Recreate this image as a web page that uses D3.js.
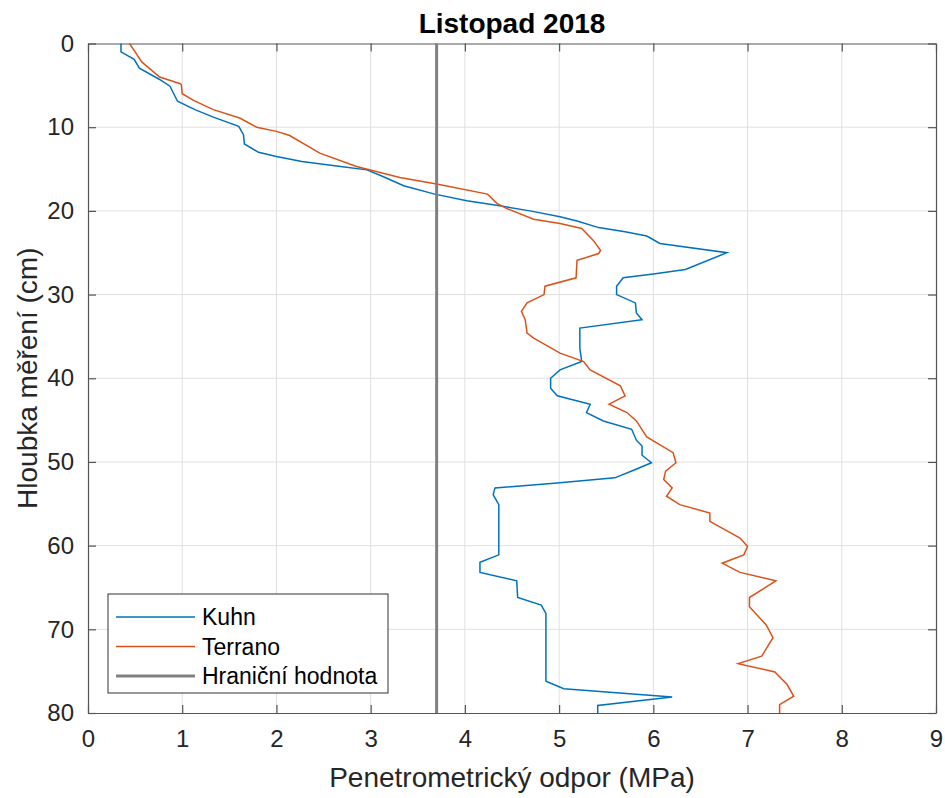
<!DOCTYPE html>
<html>
<head>
<meta charset="utf-8">
<script src="https://cdn.jsdelivr.net/npm/d3@7"></script>
<style>
  body { margin: 0; background: #fff; }
  text { font-family: "Liberation Sans", Arial, sans-serif; }
</style>
</head>
<body>
<div id="chart"></div>
<script>
// hloubka (cm) a odpor (MPa)
var kuhnDepth = [0, 1, 1.9, 2.95, 4.3, 5.1, 6, 6.9, 7.9, 8.8, 9.9, 10.9, 12, 13, 13.5, 14.1, 14.7, 15.1, 15.9, 17, 18, 18.8, 19.4, 20, 20.7, 21.2, 22, 22.5, 23, 23.9, 25, 27, 27.5, 28, 29, 30, 31, 32.2, 33, 34, 36.4, 38, 39, 40, 41.2, 42.1, 43.1, 44.1, 45.1, 46.1, 47.4, 48.1, 49.2, 50.1, 50.9, 51.9, 52.5, 53.1, 53.9, 55.1, 61.1, 62, 63.2, 64.2, 66.2, 67.1, 68.1, 76.2, 77.1, 78.1, 79.1, 80];
var kuhnValue = [0.35, 0.35, 0.49, 0.545, 0.76, 0.87, 0.91, 0.95, 1.135, 1.33, 1.6, 1.65, 1.66, 1.81, 2.0, 2.27, 2.68, 2.96, 3.13, 3.35, 3.68, 4.02, 4.37, 4.69, 5.01, 5.19, 5.42, 5.7, 5.93, 6.07, 6.78, 6.34, 6.02, 5.68, 5.61, 5.61, 5.81, 5.82, 5.88, 5.22, 5.22, 5.24, 5.01, 4.91, 4.91, 4.98, 5.33, 5.29, 5.47, 5.77, 5.82, 5.88, 5.88, 5.98, 5.81, 5.59, 5.01, 4.32, 4.3, 4.36, 4.36, 4.16, 4.16, 4.55, 4.56, 4.81, 4.86, 4.86, 5.05, 6.2, 5.41, 5.41];

var terranoDepth = [0, 1, 2.2, 4, 4.8, 4.9, 6, 6.8, 7.9, 8.9, 10, 10.5, 11, 13.1, 14.7, 16, 16.8, 18, 19.1, 19.7, 21, 21.5, 22.1, 23.5, 24.7, 25.1, 25.9, 28, 29, 30, 31, 32, 33, 34.6, 35.2, 37, 38, 39, 40.9, 42.1, 43.1, 44.1, 45.1, 47, 48.9, 50.1, 51.1, 52.1, 53.1, 54.1, 55.1, 56.1, 57.1, 59.1, 60.1, 61.1, 62.1, 63.2, 64.2, 66.2, 67.3, 69.5, 71, 73.2, 74.1, 75.1, 76.6, 78, 79, 80];
var terranoValue = [0.44, 0.5, 0.57, 0.76, 0.98, 0.99, 1.0, 1.12, 1.33, 1.61, 1.79, 2.0, 2.14, 2.46, 2.85, 3.31, 3.7, 4.24, 4.34, 4.44, 4.73, 5.01, 5.24, 5.36, 5.44, 5.42, 5.19, 5.18, 4.85, 4.84, 4.66, 4.6, 4.64, 4.66, 4.73, 5.01, 5.26, 5.33, 5.65, 5.7, 5.53, 5.72, 5.82, 5.93, 6.21, 6.24, 6.13, 6.11, 6.2, 6.14, 6.28, 6.6, 6.6, 6.92, 7.0, 6.96, 6.73, 6.92, 7.3, 7.02, 7.02, 7.2, 7.27, 7.15, 6.9, 7.29, 7.42, 7.49, 7.34, 7.34];

var limitValue = 3.7;
var xTicks = [0, 1, 2, 3, 4, 5, 6, 7, 8, 9];
var yTicks = [0, 10, 20, 30, 40, 50, 60, 70, 80];
var seriesNames = ["Kuhn", "Terrano", "Hraniční hodnota"];
var seriesColors = ["#0072BD", "#D95319", "#808080"];

var width = 945, height = 798;
var margin = {top: 43.5, right: 9, bottom: 85, left: 88};
var w = width - margin.left - margin.right;
var h = height - margin.top - margin.bottom;

var x = d3.scaleLinear().domain([0, 9]).range([0, w]);
var y = d3.scaleLinear().domain([0, 80]).range([0, h]);

var svg = d3.select("#chart").append("svg")
    .attr("width", width)
    .attr("height", height);

var g = svg.append("g")
    .attr("transform", "translate(" + margin.left + "," + margin.top + ")");

// mrizka
g.append("g").selectAll("line")
    .data(xTicks.slice(1, -1))
    .enter().append("line")
    .attr("x1", d => x(d)).attr("x2", d => x(d))
    .attr("y1", 0).attr("y2", h)
    .style("stroke", "#dfdfdf").style("stroke-width", 1);

g.append("g").selectAll("line")
    .data(yTicks.slice(1, -1))
    .enter().append("line")
    .attr("y1", d => y(d)).attr("y2", d => y(d))
    .attr("x1", 0).attr("x2", w)
    .style("stroke", "#dfdfdf").style("stroke-width", 1);

// osy
var xAxis = g.append("g")
    .attr("transform", "translate(0," + h + ")")
    .call(d3.axisBottom(x).tickValues(xTicks).tickSizeInner(-8).tickSizeOuter(0).tickPadding(22));
var yAxis = g.append("g")
    .call(d3.axisLeft(y).tickValues(yTicks).tickSizeInner(-8).tickSizeOuter(0).tickPadding(14));

var xTop = g.append("g")
    .call(d3.axisTop(x).tickValues(xTicks).tickSizeInner(-8).tickSizeOuter(0).tickFormat(""));
var yRight = g.append("g")
    .attr("transform", "translate(" + w + ",0)")
    .call(d3.axisRight(y).tickValues(yTicks).tickSizeInner(-8).tickSizeOuter(0).tickFormat(""));

[xAxis, yAxis, xTop, yRight].forEach(function(a) {
    a.select(".domain").style("stroke", "#555").style("stroke-width", 1.2);
    a.selectAll(".tick line").style("stroke", "#555").style("stroke-width", 1.2);
    a.selectAll(".tick text")
        .style("font-size", "24px")
        .style("fill", "#262626")
        .style("font-family", "'Liberation Sans', Arial, sans-serif");
});
xAxis.selectAll(".tick text").attr("dy", "0.5em");

// data
var line = d3.line()
    .x(d => x(d[1]))
    .y(d => y(d[0]));

g.append("path")
    .datum(kuhnDepth.map((d, i) => [d, kuhnValue[i]]))
    .attr("d", line)
    .style("fill", "none")
    .style("stroke", seriesColors[0])
    .style("stroke-width", 1.5);

g.append("path")
    .datum(terranoDepth.map((d, i) => [d, terranoValue[i]]))
    .attr("d", line)
    .style("fill", "none")
    .style("stroke", seriesColors[1])
    .style("stroke-width", 1.5);

g.append("line")
    .attr("x1", x(limitValue)).attr("x2", x(limitValue))
    .attr("y1", 0).attr("y2", h)
    .style("stroke", seriesColors[2])
    .style("stroke-width", 3);

// popisky
svg.append("text")
    .attr("x", margin.left + w / 2)
    .attr("y", 33)
    .attr("text-anchor", "middle")
    .style("font-size", "28px")
    .style("font-weight", "bold")
    .style("fill", "#000")
    .text("Listopad 2018");

svg.append("text")
    .attr("x", margin.left + w / 2)
    .attr("y", 787)
    .attr("text-anchor", "middle")
    .style("font-size", "28px")
    .style("fill", "#262626")
    .text("Penetrometrický odpor (MPa)");

svg.append("text")
    .attr("transform", "translate(37," + (margin.top + h / 2) + ") rotate(-90)")
    .attr("text-anchor", "middle")
    .style("font-size", "28px")
    .style("fill", "#262626")
    .text("Hloubka měření (cm)");

// legenda
var legend = svg.append("g").attr("transform", "translate(108,594)");
legend.append("rect")
    .attr("width", 280).attr("height", 99)
    .style("fill", "#fff")
    .style("stroke", "#333")
    .style("stroke-width", 1);

var rows = legend.selectAll("g.row")
    .data(seriesNames)
    .enter().append("g")
    .attr("class", "row")
    .attr("transform", (d, i) => "translate(0," + (23 + i * 29.5) + ")");

rows.append("line")
    .attr("x1", 8).attr("x2", 87)
    .style("stroke", (d, i) => seriesColors[i])
    .style("stroke-width", (d, i) => i === 2 ? 3 : 1.5);

rows.append("text")
    .attr("x", 94)
    .attr("dy", "0.36em")
    .style("font-size", "23px")
    .style("fill", "#000")
    .text(d => d);
</script>
</body>
</html>
